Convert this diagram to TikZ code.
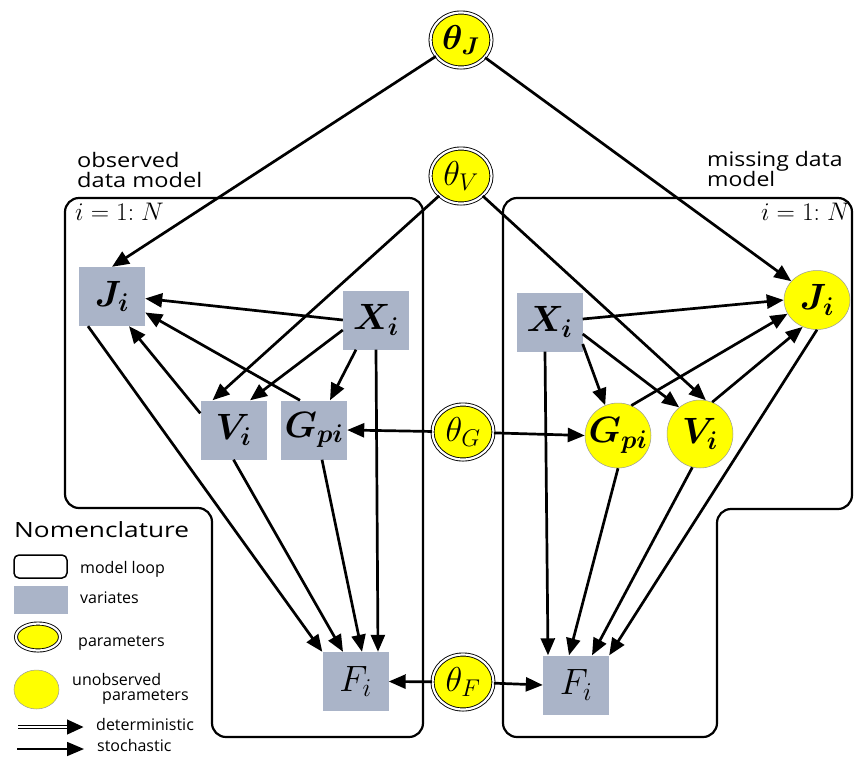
\RequirePackage{fix-cm}
\documentclass[tikz,border=0pt]{standalone}
\usepackage{amsmath,bm}
\usepackage{fontspec}
\setmainfont{Open Sans}
\usetikzlibrary{arrows.meta,shapes.geometric}
\definecolor{varfill}{RGB}{170,180,200}
\definecolor{paramfill}{RGB}{255,255,0}
\newcommand{\wtext}[2]{\scalebox{#1}[1]{#2}}
\newcommand{\vlab}[1]{\scalebox{1.22}{$#1$}}
\newcommand{\plab}[1]{\scalebox{1.08}{$#1$}}

\begin{document}
\begin{tikzpicture}[x=1pt,y=-1pt,
  var/.style={fill=varfill, minimum width=66pt, minimum height=59pt, inner sep=0pt,
    font=\fontsize{30}{30}\selectfont},
  param/.style={ellipse, fill=paramfill, draw=black, line width=0.9pt, double=white,
    double distance=2.2pt, minimum width=61pt, minimum height=55pt, inner sep=0pt,
    font=\fontsize{32}{32}\selectfont},
  hidden/.style={ellipse, fill=paramfill, draw=black!40, line width=0.5pt,
    minimum width=66pt, minimum height=60pt, inner sep=0pt,
    font=\fontsize{30}{30}\selectfont},
  arr/.style={-{Triangle[length=17pt,width=14pt]}, line width=2.7pt},
  plate/.style={line width=2.2pt, rounded corners=14pt},
  caption/.style={inner sep=0pt, anchor=base west, font=\fontsize{20}{20}\selectfont},
  legtext/.style={inner sep=0pt, anchor=base west, font=\fontsize{16}{16}\selectfont},
  platelabel/.style={inner sep=0pt, font=\fontsize{24}{24}\selectfont},
]
\useasboundingbox (0,0) rectangle (854,756);

% model loops
\draw[plate] (65,350) -- (65,198) -- (423,198) -- (423,737) -- (212,737) -- (212,508) -- (65,508) -- cycle;
\draw[plate] (503,350) -- (503,198) -- (852,198) -- (852,509) -- (717,509) -- (717,737) -- (503,737) -- cycle;

% loop captions
\node[caption] (obs1) at (77,167) {\wtext{1.18}{observed}};
\node[caption] (obs2) at (77,187) {\wtext{1.18}{data model}};
\node[caption] (mis1) at (707,166) {\wtext{1.15}{missing data}};
\node[caption] (mis2) at (707,186) {\wtext{1.15}{model}};
\node[platelabel, anchor=base west] (idxl) at (75,220) {\scalebox{1.06}{$i = 1{:}\;N$}};
\node[platelabel, anchor=base east] (idxr) at (850,220) {\scalebox{1.06}{$i = 1{:}\;N$}};

% parameters
\node[param] (thJ) at (461,40) {\plab{\bm{\theta_J}}};
\node[param] (thV) at (461,176) {\plab{\theta_V}};
\node[param] (thG) at (463,432) {\plab{\theta_G}};
\node[param] (thF) at (463,682) {\plab{\theta_F}};

% observed data model
\node[var] (Jl) at (112,296.5) {\vlab{\bm{J_i}}};
\node[var] (Xl) at (376,320) {\vlab{\bm{X_i}}};
\node[var] (Vl) at (233.5,430) {\vlab{\bm{V_i}}};
\node[var] (Gl) at (314,430) {\vlab{\bm{G_{pi}}}};
\node[var] (Fl) at (355.5,681.5) {\vlab{F_i}};

% missing data model
\node[var] (Xr) at (549.5,322) {\vlab{\bm{X_i}}};
\node[hidden, minimum height=59pt] (Jr) at (817,300) {\makebox[0pt]{\vlab{\bm{J_i}}}};
\node[hidden, minimum height=65pt] (Gr) at (618,435.5) {\makebox[0pt]{\vlab{\bm{G_{pi}}}}};
\node[hidden, minimum height=68pt] (Vr) at (700,434) {\makebox[0pt]{\vlab{\bm{V_i}}}};
\node[var] (Fr) at (576,685) {\vlab{F_i}};

% edges, observed side
\draw[arr] (thJ) -- (Jl.north);
\draw[arr] (thV) -- ([xshift=-21pt]Vl.north);
\draw[arr] (Xl.west) -- ([yshift=-2pt]Jl.east);
\draw[arr] ([yshift=-10pt]Xl.west) -- ([xshift=16.5pt]Vl.north);
\draw[arr] ([xshift=-20pt]Xl.south) -- ([xshift=16pt]Gl.north);
\draw[arr] (Xl.south) -- ([xshift=22.5pt]Fl.north);
\draw[arr] ([xshift=-14pt]Gl.north) -- ([yshift=-16pt]Jl.east);
\draw[arr] ([yshift=-13pt]Vl.north west) -- ([xshift=17pt]Jl.south);
\draw[arr] ([xshift=-24pt]Jl.south) -- (Fl.north west);
\draw[arr] (Vl.south) -- ([xshift=-12.5pt]Fl.north);
\draw[arr] ([xshift=8pt]Gl.south) -- ([xshift=6.5pt]Fl.north);
\draw[arr] (thG) -- (Gl.east);
\draw[arr] (thF) -- (Fl.east);

% edges, missing side
\draw[arr] (thJ) -- (Jr);
\draw[arr] (thV) -- (Vr.80);
\draw[arr] ([yshift=3pt]Xr.east) -- (Jr.west);
\draw[arr] ([yshift=-22pt]Xr.east) -- (Gr.113);
\draw[arr] ([yshift=-12pt]Xr.east) -- (Vr.128);
\draw[arr] ([xshift=-4.5pt]Xr.south) -- ([xshift=-28pt]Fr.north);
\draw[arr] (Gr.66) -- (Jr.205);
\draw[arr] (Vr.69) -- (Jr.242);
\draw[arr] (Jr.south) -- (Fr.north east);
\draw[arr] (Vr.257) -- ([xshift=16pt]Fr.north);
\draw[arr] (Gr.south) -- ([xshift=-7pt]Fr.north);
\draw[arr] (thG) -- (Gr.west);
\draw[arr] (thF) -- (Fr.west);

% nomenclature
\node[inner sep=0pt, anchor=base west, font=\fontsize{21}{21}\selectfont] (nomen) at (14,537) {\wtext{1.25}{Nomenclature}};
\node[draw, line width=1.5pt, rounded corners=5pt, minimum width=53pt, minimum height=23pt, inner sep=0pt] (lgloop) at (40.5,566.5) {};
\node[fill=varfill, minimum width=54pt, minimum height=28pt, inner sep=0pt] (lgvar) at (41,600) {};
\node[param, minimum width=44pt, minimum height=27pt] (lgpar) at (38,637) {};
\node[hidden, minimum width=45pt, minimum height=39pt] (lghid) at (36.5,689.5) {};
\coordinate (detA) at (18,727);
\coordinate (detB) at (84,727);
\coordinate (stoA) at (17,749);
\coordinate (stoB) at (84,749);
\draw[line width=4pt, -{Triangle[length=17pt,width=14pt]}] (detA) -- (detB);
\draw[white, line width=1.4pt] (detA) -- ([xshift=-17pt]detB);
\draw[line width=1.6pt, -{Triangle[length=17pt,width=14pt]}] (stoA) -- (stoB);
\node[legtext] (lt1) at (80,573) {model loop};
\node[legtext] (lt2) at (80,603) {variates};
\node[legtext] (lt3) at (78,646) {parameters};
\node[legtext] (lt4) at (72,685) {unobserved};
\node[legtext] (lt5) at (102,700) {parameters};
\node[legtext] (lt6) at (96,730) {deterministic};
\node[legtext] (lt7) at (97,751) {stochastic};
\end{tikzpicture}
\end{document}
